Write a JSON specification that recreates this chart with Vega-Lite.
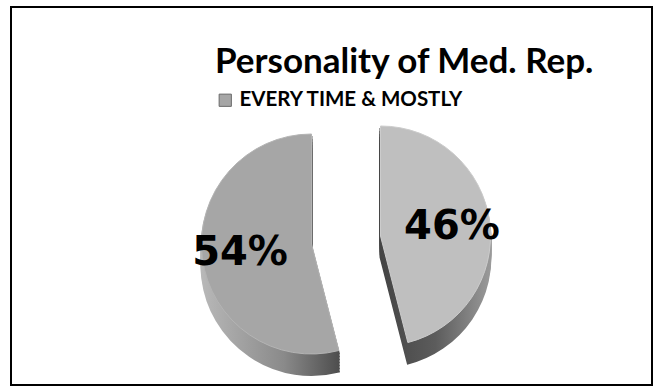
{
  "$schema": "https://vega.github.io/schema/vega-lite/v6.json",
  "width": 654,
  "height": 387,
  "autosize": {"type": "fit", "contains": "padding"},
  "padding": {"top": 7, "left": 11, "right": 2, "bottom": 2},
  "background": "#ffffff",
  "view": {"stroke": "#000000", "strokeWidth": 2, "fill": "#ffffff"},
  "config": {
    "view": {"stroke": "#000000", "strokeWidth": 2},
    "font": "Lato"
  },
  "title": {
    "text": "Personality of Med. Rep.",
    "anchor": "start",
    "align": "left",
    "baseline": "alphabetic",
    "offset": 0,
    "dx": 204,
    "dy": 101,
    "font": "Lato",
    "fontSize": 35,
    "fontWeight": "bold",
    "color": "#000000"
  },
  "data": {
    "values": [
      {"slice": "A", "series": "EVERY TIME & MOSTLY", "share": 46, "label": "46%"},
      {"slice": "B", "series": "EVERY TIME & MOSTLY", "share": 54, "label": "54%"}
    ]
  },
  "encoding": {
    "theta": {"field": "share", "type": "quantitative", "stack": true}
  },
  "layer": [
    {"mark": {"type": "arc", "radius": 110, "xOffset": -20, "yOffset": 69, "fill": {"gradient": "linear", "x1": 0, "x2": 1, "y1": 0, "y2": 0, "stops": [{"offset": 0, "color": "#b8b8b8"}, {"offset": 0.6, "color": "#8a8a8a"}, {"offset": 1, "color": "#4e4e4e"}]}, "stroke": {"gradient": "linear", "x1": 0, "x2": 1, "y1": 0, "y2": 0, "stops": [{"offset": 0, "color": "#b8b8b8"}, {"offset": 0.6, "color": "#8a8a8a"}, {"offset": 1, "color": "#4e4e4e"}]}, "strokeWidth": 2},
     "encoding": {"opacity": {"condition": {"test": "datum.slice === 'B'", "value": 1}, "value": 0}}},
    {"mark": {"type": "arc", "radius": 110, "xOffset": -20, "yOffset": 66, "fill": {"gradient": "linear", "x1": 0, "x2": 1, "y1": 0, "y2": 0, "stops": [{"offset": 0, "color": "#b8b8b8"}, {"offset": 0.6, "color": "#8a8a8a"}, {"offset": 1, "color": "#4e4e4e"}]}, "stroke": {"gradient": "linear", "x1": 0, "x2": 1, "y1": 0, "y2": 0, "stops": [{"offset": 0, "color": "#b8b8b8"}, {"offset": 0.6, "color": "#8a8a8a"}, {"offset": 1, "color": "#4e4e4e"}]}, "strokeWidth": 2},
     "encoding": {"opacity": {"condition": {"test": "datum.slice === 'B'", "value": 1}, "value": 0}}},
    {"mark": {"type": "arc", "radius": 110, "xOffset": -20, "yOffset": 63, "fill": {"gradient": "linear", "x1": 0, "x2": 1, "y1": 0, "y2": 0, "stops": [{"offset": 0, "color": "#b8b8b8"}, {"offset": 0.6, "color": "#8a8a8a"}, {"offset": 1, "color": "#4e4e4e"}]}, "stroke": {"gradient": "linear", "x1": 0, "x2": 1, "y1": 0, "y2": 0, "stops": [{"offset": 0, "color": "#b8b8b8"}, {"offset": 0.6, "color": "#8a8a8a"}, {"offset": 1, "color": "#4e4e4e"}]}, "strokeWidth": 2},
     "encoding": {"opacity": {"condition": {"test": "datum.slice === 'B'", "value": 1}, "value": 0}}},
    {"mark": {"type": "arc", "radius": 110, "xOffset": -20, "yOffset": 60, "fill": {"gradient": "linear", "x1": 0, "x2": 1, "y1": 0, "y2": 0, "stops": [{"offset": 0, "color": "#b8b8b8"}, {"offset": 0.6, "color": "#8a8a8a"}, {"offset": 1, "color": "#4e4e4e"}]}, "stroke": {"gradient": "linear", "x1": 0, "x2": 1, "y1": 0, "y2": 0, "stops": [{"offset": 0, "color": "#b8b8b8"}, {"offset": 0.6, "color": "#8a8a8a"}, {"offset": 1, "color": "#4e4e4e"}]}, "strokeWidth": 2},
     "encoding": {"opacity": {"condition": {"test": "datum.slice === 'B'", "value": 1}, "value": 0}}},
    {"mark": {"type": "arc", "radius": 110, "xOffset": -20, "yOffset": 57, "fill": {"gradient": "linear", "x1": 0, "x2": 1, "y1": 0, "y2": 0, "stops": [{"offset": 0, "color": "#b8b8b8"}, {"offset": 0.6, "color": "#8a8a8a"}, {"offset": 1, "color": "#4e4e4e"}]}, "stroke": {"gradient": "linear", "x1": 0, "x2": 1, "y1": 0, "y2": 0, "stops": [{"offset": 0, "color": "#b8b8b8"}, {"offset": 0.6, "color": "#8a8a8a"}, {"offset": 1, "color": "#4e4e4e"}]}, "strokeWidth": 2},
     "encoding": {"opacity": {"condition": {"test": "datum.slice === 'B'", "value": 1}, "value": 0}}},
    {"mark": {"type": "arc", "radius": 110, "xOffset": -20, "yOffset": 54, "fill": {"gradient": "linear", "x1": 0, "x2": 1, "y1": 0, "y2": 0, "stops": [{"offset": 0, "color": "#b8b8b8"}, {"offset": 0.6, "color": "#8a8a8a"}, {"offset": 1, "color": "#4e4e4e"}]}, "stroke": {"gradient": "linear", "x1": 0, "x2": 1, "y1": 0, "y2": 0, "stops": [{"offset": 0, "color": "#b8b8b8"}, {"offset": 0.6, "color": "#8a8a8a"}, {"offset": 1, "color": "#4e4e4e"}]}, "strokeWidth": 2},
     "encoding": {"opacity": {"condition": {"test": "datum.slice === 'B'", "value": 1}, "value": 0}}},
    {"mark": {"type": "arc", "radius": 110, "xOffset": -20, "yOffset": 51, "fill": {"gradient": "linear", "x1": 0, "x2": 1, "y1": 0, "y2": 0, "stops": [{"offset": 0, "color": "#b8b8b8"}, {"offset": 0.6, "color": "#8a8a8a"}, {"offset": 1, "color": "#4e4e4e"}]}, "stroke": {"gradient": "linear", "x1": 0, "x2": 1, "y1": 0, "y2": 0, "stops": [{"offset": 0, "color": "#b8b8b8"}, {"offset": 0.6, "color": "#8a8a8a"}, {"offset": 1, "color": "#4e4e4e"}]}, "strokeWidth": 2},
     "encoding": {"opacity": {"condition": {"test": "datum.slice === 'B'", "value": 1}, "value": 0}}},

    {"mark": {"type": "arc", "radius": 110, "xOffset": 49, "yOffset": 61, "fill": {"gradient": "linear", "x1": 0, "x2": 1, "y1": 0, "y2": 0, "stops": [{"offset": 0, "color": "#444444"}, {"offset": 0.5, "color": "#5c5c5c"}, {"offset": 1, "color": "#9a9a9a"}]}, "stroke": {"gradient": "linear", "x1": 0, "x2": 1, "y1": 0, "y2": 0, "stops": [{"offset": 0, "color": "#444444"}, {"offset": 0.5, "color": "#5c5c5c"}, {"offset": 1, "color": "#9a9a9a"}]}, "strokeWidth": 2},
     "encoding": {"opacity": {"condition": {"test": "datum.slice === 'A'", "value": 1}, "value": 0}}},
    {"mark": {"type": "arc", "radius": 110, "xOffset": 49, "yOffset": 58, "fill": {"gradient": "linear", "x1": 0, "x2": 1, "y1": 0, "y2": 0, "stops": [{"offset": 0, "color": "#444444"}, {"offset": 0.5, "color": "#5c5c5c"}, {"offset": 1, "color": "#9a9a9a"}]}, "stroke": {"gradient": "linear", "x1": 0, "x2": 1, "y1": 0, "y2": 0, "stops": [{"offset": 0, "color": "#444444"}, {"offset": 0.5, "color": "#5c5c5c"}, {"offset": 1, "color": "#9a9a9a"}]}, "strokeWidth": 2},
     "encoding": {"opacity": {"condition": {"test": "datum.slice === 'A'", "value": 1}, "value": 0}}},
    {"mark": {"type": "arc", "radius": 110, "xOffset": 49, "yOffset": 55, "fill": {"gradient": "linear", "x1": 0, "x2": 1, "y1": 0, "y2": 0, "stops": [{"offset": 0, "color": "#444444"}, {"offset": 0.5, "color": "#5c5c5c"}, {"offset": 1, "color": "#9a9a9a"}]}, "stroke": {"gradient": "linear", "x1": 0, "x2": 1, "y1": 0, "y2": 0, "stops": [{"offset": 0, "color": "#444444"}, {"offset": 0.5, "color": "#5c5c5c"}, {"offset": 1, "color": "#9a9a9a"}]}, "strokeWidth": 2},
     "encoding": {"opacity": {"condition": {"test": "datum.slice === 'A'", "value": 1}, "value": 0}}},
    {"mark": {"type": "arc", "radius": 110, "xOffset": 49, "yOffset": 52, "fill": {"gradient": "linear", "x1": 0, "x2": 1, "y1": 0, "y2": 0, "stops": [{"offset": 0, "color": "#444444"}, {"offset": 0.5, "color": "#5c5c5c"}, {"offset": 1, "color": "#9a9a9a"}]}, "stroke": {"gradient": "linear", "x1": 0, "x2": 1, "y1": 0, "y2": 0, "stops": [{"offset": 0, "color": "#444444"}, {"offset": 0.5, "color": "#5c5c5c"}, {"offset": 1, "color": "#9a9a9a"}]}, "strokeWidth": 2},
     "encoding": {"opacity": {"condition": {"test": "datum.slice === 'A'", "value": 1}, "value": 0}}},
    {"mark": {"type": "arc", "radius": 110, "xOffset": 49, "yOffset": 49, "fill": {"gradient": "linear", "x1": 0, "x2": 1, "y1": 0, "y2": 0, "stops": [{"offset": 0, "color": "#444444"}, {"offset": 0.5, "color": "#5c5c5c"}, {"offset": 1, "color": "#9a9a9a"}]}, "stroke": {"gradient": "linear", "x1": 0, "x2": 1, "y1": 0, "y2": 0, "stops": [{"offset": 0, "color": "#444444"}, {"offset": 0.5, "color": "#5c5c5c"}, {"offset": 1, "color": "#9a9a9a"}]}, "strokeWidth": 2},
     "encoding": {"opacity": {"condition": {"test": "datum.slice === 'A'", "value": 1}, "value": 0}}},
    {"mark": {"type": "arc", "radius": 110, "xOffset": 49, "yOffset": 46, "fill": {"gradient": "linear", "x1": 0, "x2": 1, "y1": 0, "y2": 0, "stops": [{"offset": 0, "color": "#444444"}, {"offset": 0.5, "color": "#5c5c5c"}, {"offset": 1, "color": "#9a9a9a"}]}, "stroke": {"gradient": "linear", "x1": 0, "x2": 1, "y1": 0, "y2": 0, "stops": [{"offset": 0, "color": "#444444"}, {"offset": 0.5, "color": "#5c5c5c"}, {"offset": 1, "color": "#9a9a9a"}]}, "strokeWidth": 2},
     "encoding": {"opacity": {"condition": {"test": "datum.slice === 'A'", "value": 1}, "value": 0}}},
    {"mark": {"type": "arc", "radius": 110, "xOffset": 49, "yOffset": 43, "fill": {"gradient": "linear", "x1": 0, "x2": 1, "y1": 0, "y2": 0, "stops": [{"offset": 0, "color": "#444444"}, {"offset": 0.5, "color": "#5c5c5c"}, {"offset": 1, "color": "#9a9a9a"}]}, "stroke": {"gradient": "linear", "x1": 0, "x2": 1, "y1": 0, "y2": 0, "stops": [{"offset": 0, "color": "#444444"}, {"offset": 0.5, "color": "#5c5c5c"}, {"offset": 1, "color": "#9a9a9a"}]}, "strokeWidth": 2},
     "encoding": {"opacity": {"condition": {"test": "datum.slice === 'A'", "value": 1}, "value": 0}}},

    {"mark": {"type": "arc", "radius": 110, "xOffset": -20, "yOffset": 48, "stroke": "#b4b4b4", "strokeWidth": 1},
     "encoding": {
       "fill": {"field": "series", "type": "nominal", "scale": {"range": ["#a6a6a6"]},
                "legend": {"title": null, "orient": "none", "legendX": 204, "legendY": 83, "padding": 0,
                           "symbolType": "square", "symbolSize": 150, "symbolStrokeWidth": 1,
                           "labelFont": "Lato", "labelFontSize": 20.5, "labelFontWeight": "bold", "labelColor": "#000000",
                           "labelOffset": 4, "labelLimit": 400,
                           "symbolStrokeColor": "#6a6a6a",
                           "encode": {"symbols": {"update": {"fill": {"value": "#8c8c8c"}, "stroke": {"value": "#6a6a6a"}}}}}},
       "opacity": {"condition": {"test": "datum.slice === 'B'", "value": 1}, "value": 0}}},
    {"mark": {"type": "arc", "radius": 110, "xOffset": 49, "yOffset": 40, "fill": "#bfbfbf", "stroke": "#cccccc", "strokeWidth": 1},
     "encoding": {"opacity": {"condition": {"test": "datum.slice === 'A'", "value": 1}, "value": 0}}},

    {"mark": {"type": "text", "radius": 72, "xOffset": -20, "yOffset": 48, "font": "DejaVu Sans", "fontSize": 40, "fontWeight": "bold", "fill": "#000000", "align": "center", "baseline": "middle"},
     "encoding": {"text": {"field": "label"}, "opacity": {"condition": {"test": "datum.slice === 'B'", "value": 1}, "value": 0}}},
    {"mark": {"type": "text", "radius": 72, "xOffset": 49, "yOffset": 40, "font": "DejaVu Sans", "fontSize": 40, "fontWeight": "bold", "fill": "#000000", "align": "center", "baseline": "middle"},
     "encoding": {"text": {"field": "label"}, "opacity": {"condition": {"test": "datum.slice === 'A'", "value": 1}, "value": 0}}}
  ]
}
